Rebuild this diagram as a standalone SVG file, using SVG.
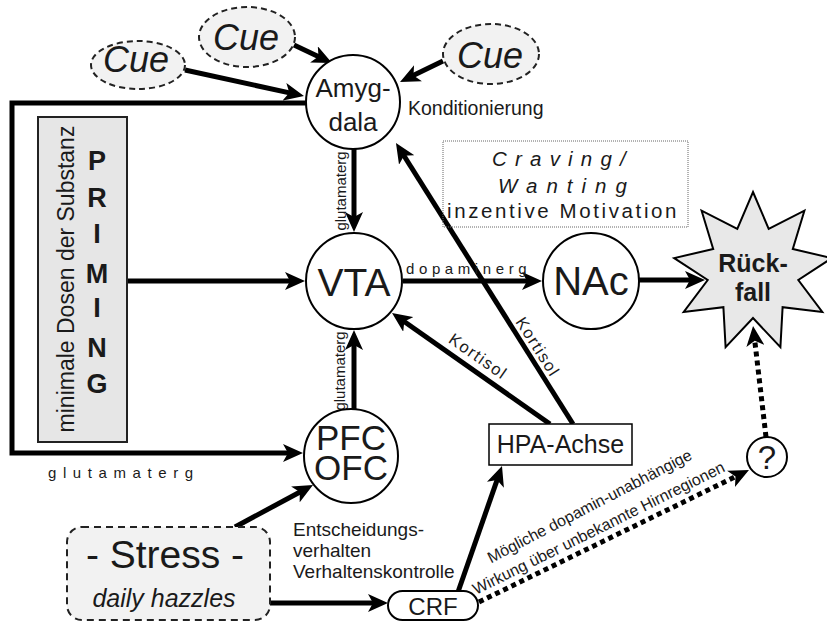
<svg xmlns="http://www.w3.org/2000/svg" width="827" height="623" viewBox="0 0 827 623">
  <defs>
    <marker id="ah" viewBox="0 0 20 18" refX="10" refY="9" markerWidth="20" markerHeight="18" markerUnits="userSpaceOnUse" orient="auto">
      <path d="M0,0 L20,9 L0,18 L5,9 z" fill="#000"/>
    </marker>
    <style>
      text { font-family: "Liberation Sans", Arial, sans-serif; fill: #1a1a1a; }
      .node { fill: #fff; stroke: #000; stroke-width: 2; }
      .cue { fill: #f2f2f2; stroke: #222; stroke-width: 2; stroke-dasharray: 6 4; }
      .conn { fill: none; stroke: #000; stroke-width: 5; marker-end: url(#ah); }
      .dot { fill: none; stroke: #000; stroke-width: 5; stroke-dasharray: 5 4; marker-end: url(#ah); }
      .mid { text-anchor: middle; }
      .spaced { letter-spacing: 6.6px; font-size: 15px; }
    </style>
  </defs>
  <rect width="827" height="623" fill="#fff"/>

  <!-- connectors -->
  <g id="connectors">
    <path class="conn" d="M185,70 L294.2,93.9"/>
    <path class="conn" d="M294,45 L323,58.7"/>
    <path class="conn" d="M443,61 L409,77.6"/>
    <path class="conn" d="M354,149 L354,222"/>
    <path class="conn" d="M127,281 L295,281"/>
    <path class="conn" d="M403,281 L532,281"/>
    <path class="conn" d="M639,280 L695,280"/>
    <path class="conn" d="M354,409 L354,340"/>
    <path class="conn" d="M550,424 L400.2,318.7"/>
    <path class="conn" d="M573,424 L401.3,151.5"/>
    <path class="conn" d="M306,103 H12 V453 H293"/>
    <path class="conn" d="M235,527 L304.2,489.7"/>
    <path class="conn" d="M270,603 L378,603"/>
    <path class="conn" d="M458,592 L498.7,475.4"/>
    <path class="dot" d="M479,602 L740,474.4"/>
    <path class="dot" d="M766,437 L754.2,335.9"/>

    <!-- connector labels -->
    <text transform="translate(346,191) rotate(-90)" class="mid" font-size="15">glutamaterg</text>
    <text transform="translate(345,371) rotate(-90)" class="mid" font-size="15">glutamaterg</text>
    <text x="406" y="274" font-size="15" letter-spacing="4.6">dopaminerg</text>
    <text x="48" y="478" class="spaced">glutamaterg</text>
    <text transform="translate(533,350) rotate(57.5)" class="mid" font-size="16.5" letter-spacing="1.5">Kortisol</text>
    <text transform="translate(475,361) rotate(35)" class="mid" font-size="16.5" letter-spacing="1.5">Kortisol</text>
    <text transform="translate(592,511) rotate(-27.4)" class="mid" font-size="16">Mögliche dopamin-unabhängige</text>
    <text transform="translate(601,533) rotate(-26.4)" class="mid" font-size="16">Wirkung über unbekannte Hirnregionen</text>
  </g>

  <!-- cue stimuli -->
  <g id="cue1">
    <ellipse class="cue" cx="138" cy="65" rx="47" ry="24"/>
    <text x="136" y="72" class="mid" font-size="36" font-style="italic">Cue</text>
  </g>
  <g id="cue2">
    <ellipse class="cue" cx="247" cy="37" rx="48" ry="30"/>
    <text x="246" y="50" class="mid" font-size="36" font-style="italic">Cue</text>
  </g>
  <g id="cue3">
    <ellipse class="cue" cx="491" cy="54" rx="48" ry="30"/>
    <text x="490" y="68" class="mid" font-size="36" font-style="italic">Cue</text>
  </g>

  <!-- brain regions -->
  <g id="amygdala">
    <circle class="node" cx="353" cy="102" r="47"/>
    <text x="353" y="97" class="mid" font-size="26">Amyg-</text>
    <text x="353" y="131" class="mid" font-size="26">dala</text>
  </g>
  <text x="408" y="115" font-size="19.5">Konditionierung</text>

  <g id="vta">
    <circle class="node" cx="354" cy="281" r="48"/>
    <text x="354" y="296" class="mid" font-size="39">VTA</text>
  </g>

  <g id="nac">
    <circle class="node" cx="591" cy="281" r="48"/>
    <text x="591" y="295" class="mid" font-size="40">NAc</text>
  </g>

  <g id="pfc">
    <circle class="node" cx="351" cy="456" r="47"/>
    <text x="351" y="450" class="mid" font-size="35">PFC</text>
    <text x="351" y="480" class="mid" font-size="35">OFC</text>
  </g>
  <g id="pfc-note" font-size="19">
    <text x="293" y="536">Entscheidungs-</text>
    <text x="293" y="557">verhalten</text>
    <text x="293" y="578">Verhaltenskontrolle</text>
  </g>

  <!-- incentive motivation note -->
  <g id="craving">
    <rect x="443" y="141" width="245" height="86" fill="none" stroke="#666" stroke-width="1" stroke-dasharray="1 1"/>
    <text x="492" y="166" font-size="20.5" font-style="italic" letter-spacing="8.2">Craving/</text>
    <text x="498" y="193" font-size="20.5" font-style="italic" letter-spacing="9">Wanting</text>
    <text x="447" y="218" font-size="20.5" letter-spacing="2.6">inzentive Motivation</text>
  </g>

  <!-- relapse -->
  <g id="rueckfall">
    <polygon points="753,192 768.7,228.8 804.4,210.7 792.8,249 831.8,258.1 798.3,280 822.3,312 782.6,307.2 780.4,347.2 753,318 725.6,347.2 723.4,307.2 683.7,312 707.7,280 674.2,258.1 713.2,249 701.6,210.7 737.3,228.8" fill="#e8e8e8" stroke="#000" stroke-width="2" stroke-linejoin="miter"/>
    <text x="753" y="272" class="mid" font-size="25" font-weight="bold">Rück-</text>
    <text x="753" y="301" class="mid" font-size="25" font-weight="bold">fall</text>
  </g>

  <g id="unknown">
    <circle class="node" cx="767" cy="457" r="20"/>
    <text x="767" y="469" class="mid" font-size="33">?</text>
  </g>

  <!-- priming -->
  <g id="priming">
    <rect x="38" y="117" width="89" height="325" fill="#e6e6e6" stroke="#222" stroke-width="2"/>
    <text transform="translate(74,279) rotate(-90)" class="mid" font-size="23">minimale Dosen der Substanz</text>
    <g font-size="27" font-weight="bold" text-anchor="middle">
      <text x="97" y="170">P</text>
      <text x="97" y="207">R</text>
      <text x="97" y="243">I</text>
      <text x="97" y="283">M</text>
      <text x="97" y="317">I</text>
      <text x="97" y="357">N</text>
      <text x="97" y="393">G</text>
    </g>
  </g>

  <!-- stress and hormone axis -->
  <g id="stress">
    <rect x="67" y="527" width="203" height="93" rx="15" fill="#f2f2f2" stroke="#222" stroke-width="2" stroke-dasharray="7 5"/>
    <text x="165" y="568" class="mid" font-size="39">- Stress -</text>
    <text x="164" y="607" class="mid" font-size="25" font-style="italic">daily hazzles</text>
  </g>

  <g id="hpa">
    <rect x="489" y="424" width="143" height="41" fill="#fff" stroke="#000" stroke-width="1.5"/>
    <text x="560.5" y="453" class="mid" font-size="25">HPA-Achse</text>
  </g>

  <g id="crf">
    <rect x="388" y="591" width="90" height="29" rx="14.5" fill="#fff" stroke="#000" stroke-width="2"/>
    <text x="433" y="615" class="mid" font-size="24">CRF</text>
  </g>
</svg>
